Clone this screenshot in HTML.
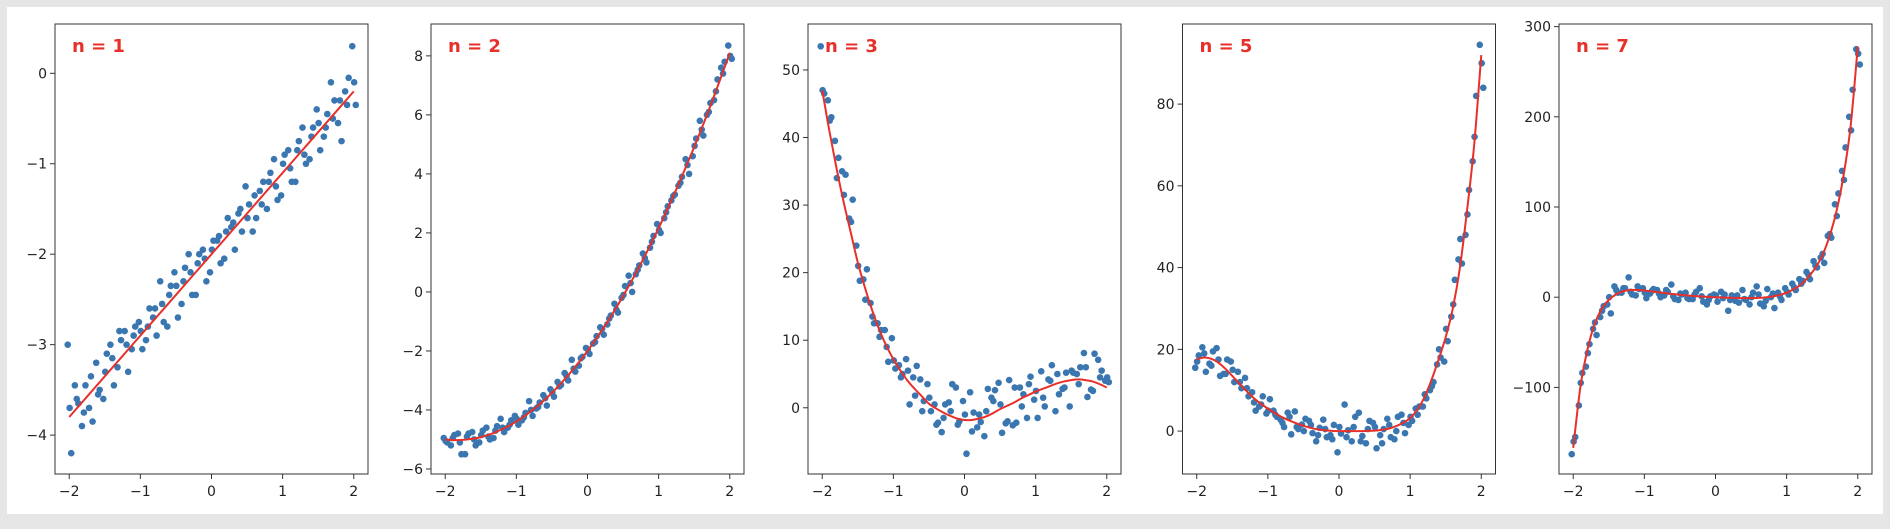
<!DOCTYPE html>
<html><head><meta charset="utf-8"><style>
html,body{margin:0;padding:0;background:#e6e6e6;}
#wrap{position:absolute;left:0;top:0;width:1890px;height:524px;}
svg text{font-family:"DejaVu Sans","Liberation Sans",sans-serif;}
</style></head><body>
<div id="wrap">
<svg id="fig" width="1890" height="524" viewBox="0 0 1890 524" xmlns="http://www.w3.org/2000/svg">
<rect x="7" y="7" width="1876" height="507" fill="#ffffff"/>
</svg>
</div>
<script>
const xs = [-2,-1.9,-1.8,-1.7,-1.6,-1.5,-1.4,-1.3,-1.2,-1.1,-1,-0.9,-0.8,-0.7,-0.6,-0.5,-0.4,-0.3,-0.2,-0.1,0,0.1,0.2,0.3,0.4,0.5,0.6,0.7,0.8,0.9,1,1.1,1.2,1.3,1.4,1.5,1.6,1.7,1.8,1.9,2];
const xTicks = [-2,-1,0,1,2];
const panelLabels = ["n = 1","n = 2","n = 3","n = 5","n = 7"];

const fit1 = [-3.8,-3.71,-3.62,-3.53,-3.44,-3.35,-3.26,-3.17,-3.08,-2.99,-2.9,-2.81,-2.72,-2.63,-2.54,-2.45,-2.36,-2.27,-2.18,-2.09,-2.0,-1.91,-1.82,-1.73,-1.64,-1.55,-1.46,-1.37,-1.28,-1.19,-1.1,-1.01,-0.92,-0.83,-0.74,-0.65,-0.56,-0.47,-0.38,-0.29,-0.2];
const pts1a = [-3.0,-3.45,-3.9,-3.7,-3.2,-3.6,-3.0,-3.25,-2.85,-3.05,-2.75,-2.95,-2.7,-2.3,-2.8,-2.2,-2.55,-2.0,-2.45,-1.95,-2.2,-1.85,-2.05,-1.7,-1.55,-1.25,-1.75,-1.3,-1.5,-0.95,-1.35,-0.85,-1.2,-0.6,-0.95,-0.4,-0.7,-0.1,-0.55,-0.2,0.3];
const pts1b = [-4.2,-3.65,-3.45,-3.85,-3.5,-3.1,-3.45,-2.95,-3.3,-2.8,-3.05,-2.6,-2.9,-2.75,-2.35,-2.7,-2.15,-2.45,-2.0,-2.3,-1.85,-2.1,-1.6,-1.95,-1.75,-1.45,-1.6,-1.2,-1.1,-1.4,-0.9,-1.2,-0.75,-1.0,-0.6,-0.85,-0.45,-0.3,-0.75,-0.05,-0.35];
const pts1c = [-3.7,-3.6,-3.75,-3.35,-3.55,-3.3,-3.15,-2.85,-3.0,-2.9,-2.85,-2.8,-2.6,-2.55,-2.45,-2.35,-2.3,-2.2,-2.1,-2.05,-1.95,-1.8,-1.75,-1.65,-1.5,-1.6,-1.35,-1.45,-1.2,-1.25,-1.0,-1.05,-0.85,-0.9,-0.7,-0.55,-0.6,-0.5,-0.3,-0.35,-0.1];
const yTicks1 = [0,-1,-2,-3,-4];

const fit2 = [-5.0,-5.02,-5.02,-5.0,-4.97,-4.92,-4.85,-4.76,-4.65,-4.53,-4.39,-4.23,-4.05,-3.86,-3.65,-3.42,-3.17,-2.9,-2.62,-2.32,-2.0,-1.66,-1.31,-0.94,-0.55,-0.14,0.285,0.73,1.19,1.67,2.16,2.68,3.21,3.76,4.33,4.91,5.51,6.13,6.77,7.43,8.1];
const pts2a = [-4.95,-5.2,-4.8,-5.5,-4.75,-5.1,-4.6,-4.95,-4.3,-4.6,-4.2,-4.35,-3.7,-3.95,-3.5,-3.3,-3.05,-2.75,-2.3,-2.5,-1.9,-1.75,-1.2,-1.1,-0.4,-0.2,0.55,0.6,1.3,1.5,2.3,2.5,3.1,3.6,4.5,4.6,5.8,6.0,6.5,7.6,8.35];
const pts2b = [-5.1,-4.85,-5.5,-4.8,-5.2,-4.7,-5.0,-4.55,-4.75,-4.35,-4.5,-4.1,-4.2,-3.75,-3.85,-3.55,-3.15,-3.0,-2.7,-2.2,-2.1,-1.5,-1.45,-0.8,-0.7,0.2,0.0,0.9,1.0,1.9,2.0,2.9,3.3,3.9,4.0,5.2,5.3,6.4,7.2,7.8,7.9];
const pts2c = [-5.05,-4.95,-5.1,-4.9,-5.0,-4.85,-4.9,-4.7,-4.6,-4.5,-4.3,-4.25,-4.0,-3.9,-3.6,-3.4,-3.2,-2.85,-2.6,-2.25,-1.95,-1.7,-1.25,-0.9,-0.6,-0.1,0.3,0.75,1.15,1.7,2.1,2.7,3.25,3.7,4.3,4.95,5.5,6.1,6.8,7.4,8.0];
const yTicks2 = [-6,-4,-2,0,2,4,6,8];

const fit3 = [47,41,35.5,30.5,26,21.5,17.8,14.5,11.6,9.2,7.2,5.5,4,2.8,1.7,0.6,-0.1,-0.7,-1.2,-1.6,-1.8,-1.8,-1.6,-1.3,-0.8,-0.2,0.3,0.8,1.4,1.9,2.4,2.8,3.2,3.6,3.9,4.1,4.2,4.1,3.9,3.5,3.0];
const pts3a = [53.5,45.5,39.5,35,28,24,19,15.5,12.5,11.5,10.3,6.3,7.2,4.5,4.2,3.5,0.5,-3.6,0.8,3,1,2.3,-2.9,-4.2,1.5,3.7,-2.3,-2.6,3,-1.5,1.2,5.4,4.2,-0.5,2.8,0.2,5,8.1,2.7,7.1,4.0];
const pts3b = [46.5,43,37,34.5,30.8,18.8,20.5,12.5,11.5,6.8,5.8,5,0.5,6.2,1,-0.5,-2.2,0.5,3.5,-2,-6.8,-0.7,-2.1,2.8,2.6,-3.7,4.1,-2.2,2.0,4.6,-1.5,0.2,6.3,2.0,5.2,5.2,6,1.6,8.0,5.5,3.8];
const pts3c = [47,42.5,34,31.5,27.5,21,16,13.5,10.5,9,7,4.5,5.5,1.8,-0.5,1.5,-2.5,-1.5,-0.5,-2.5,-1.0,-3.5,-1.0,-0.5,1.0,0.5,-2.0,3.0,0.2,3.5,2.5,1.5,4.0,5.0,3.0,5.5,3.5,6.0,2.5,4.5,4.5];
const yTicks3 = [0,10,20,30,40,50];

const fit4 = [17.5,18,17.7,16.8,15.3,13.5,11.6,9.8,8.1,6.7,5.5,4.4,3.4,2.6,1.9,1.3,0.8,0.4,0.2,0.05,0,0,0,0,0.05,0.1,0.3,0.6,1.2,2,3.2,5.2,8.2,12.5,17.5,23,30,40,54,70,92];
const pts4a = [15.5,20.5,16.5,20.3,14,17,14.5,13,9.5,6,4.3,5,2.8,4.5,4.8,1.6,2.5,-2.5,2.8,-1,-5.2,6.5,-2.5,4.5,-3,2,-1,3,-2,4,1.5,5.5,6,10,16.3,17,28,42,48,66,94.5];
const pts4b = [18.5,14.5,19.5,13.5,17.5,12,10.5,8.5,5,8.5,7.8,3.5,1,-0.8,0.5,3,-0.5,0.8,-1.5,1.5,-0.6,0.2,3.5,-1.2,2.5,-4.2,0.5,-1.5,3.5,-0.5,2.5,6,8,12,18,22,37,41,59,82,84];
const pts4c = [17,19,16,17.5,14,15,12,10.5,7,6.5,5,4,2,3.5,1,0,1.5,-1,0.5,-2,1,-1.5,1,-2.5,0.5,1,-3,1.5,0,2,3.5,4,9,11,20,25,31,47,53,72,90];
const yTicks4 = [0,20,40,60,80];

const fit5 = [-167,-100,-58,-30,-13,-3,3,6.5,8,8,7.5,6.5,5.5,4.5,3.5,2.7,2,1.3,0.8,0.4,0,-0.3,-0.6,-0.8,-1,-1,-0.8,-0.2,0.8,2.5,5,9,14,22,32,46,67,95,135,190,278];
const pts5a = [-174,-120,-77,-35,-22,-8,12,5,22,2,10,4,8,2,14,-3,5,-2,10,-8,3,6,-15,-4,8,-8,12,-10,0,5,10,15,20,28,40,44,68,103,140,200,275];
const pts5b = [-155,-84,-52,-42,-10,-18,5,10,3,9,-1,9,0,6,-2,3,-2,6,-5,1,-5,3,2,-6,-3,5,-7,9,-12,-3,3,8,18,20,33,38,66,115,166,230,258];
const pts5c = [-160,-95,-62,-28,-15,0,8,10,6,12,5,7,4,8,1,4,-1,3,1,-3,2,-1,-3,2,-2,0,3,-4,4,1,6,11,15,25,35,48,70,90,130,185,270];
const yTicks5 = [-100,0,100,200,300];

const NS = "http://www.w3.org/2000/svg";
const svg = document.getElementById('fig');
const panels = [
  {left:55, ymin:-4.43, ymax:0.545, fit:fit1, series:[pts1a,pts1b,pts1c], ticks:yTicks1},
  {left:431, ymin:-6.17, ymax:9.08, fit:fit2, series:[pts2a,pts2b,pts2c], ticks:yTicks2},
  {left:808, ymin:-9.8, ymax:56.8, fit:fit3, series:[pts3a,pts3b,pts3c], ticks:yTicks3},
  {left:1182.5, ymin:-10.5, ymax:99.6, fit:fit4, series:[pts4a,pts4b,pts4c], ticks:yTicks4},
  {left:1559, ymin:-196, ymax:302.9, fit:fit5, series:[pts5a,pts5b,pts5c], ticks:yTicks5}
];
const TOP = 24, BOT = 474, W = 313;
const xOff = [-1.5, 2, 0.4];
function mk(tag, attrs, parent){const e=document.createElementNS(NS,tag);for(const k in attrs)e.setAttribute(k,attrs[k]);(parent||svg).appendChild(e);return e;}
function fmt(v){return v<0?'\u2212'+Math.abs(v):String(v);}

panels.forEach((p, i) => {
  const g = mk('g', {});
  
  
  const sx = x => p.left + (x + 2.2) / 4.4 * W;
  const sy = y => BOT - (y - p.ymin) / (p.ymax - p.ymin) * (BOT - TOP);
  const cp = mk('clipPath', {id: 'clip' + i}, g);
  mk('rect', {x: p.left, y: TOP, width: W, height: BOT - TOP}, cp);
  const plot = mk('g', {'clip-path': 'url(#clip' + i + ')'}, g);
  
  
  p.series.forEach((arr, si) => {
    arr.forEach((v, k) => {
      const c = mk('circle', {cx: sx(xs[k]) + xOff[si], cy: sy(v), r: 3.3, fill: '#3a76b0'}, plot);
      
      
    });
  });
  const P = p.fit.map((v, k) => [sx(xs[k]), sy(v)]);
  let d = 'M' + P[0][0] + ',' + P[0][1];
  for (let k = 0; k < P.length - 1; k++) {
    const p0 = P[Math.max(0, k-1)], p1 = P[k], p2 = P[k+1], p3 = P[Math.min(P.length-1, k+2)];
    const c1 = [p1[0] + (p2[0]-p0[0])/6, p1[1] + (p2[1]-p0[1])/6];
    const c2 = [p2[0] - (p3[0]-p1[0])/6, p2[1] - (p3[1]-p1[1])/6];
    d += ' C' + c1 + ' ' + c2 + ' ' + p2;
  }
  const line = mk('path', {d: d, fill: 'none', stroke: '#e8302a', 'stroke-width': 2}, plot);
  
  
  const fr = mk('rect', {x: p.left, y: TOP, width: W, height: BOT - TOP, fill: 'none', stroke: '#333', 'stroke-width': 1}, g);
  
  
  xTicks.forEach(t => {
    const x = sx(t);
    mk('line', {x1: x, x2: x, y1: BOT, y2: BOT + 5, stroke: '#333'}, g);
    const tx = mk('text', {x: x, y: BOT + 22, 'text-anchor': 'middle', 'font-size': 14, fill: '#222'}, g);
    tx.textContent = fmt(t);
    
    
  });
  p.ticks.forEach(t => {
    const y = sy(t);
    mk('line', {x1: p.left - 5, x2: p.left, y1: y, y2: y, stroke: '#333'}, g);
    const ty = mk('text', {x: p.left - 8, y: y + 5, 'text-anchor': 'end', 'font-size': 14, fill: '#222'}, g);
    ty.textContent = fmt(t);
    
    
  });
  const lab = mk('text', {x: p.left + 17, y: 52, 'font-size': 18, 'font-weight': 'bold', fill: '#e8302a'}, g);
  lab.textContent = panelLabels[i];
  
  
});
</script>
</body></html>
